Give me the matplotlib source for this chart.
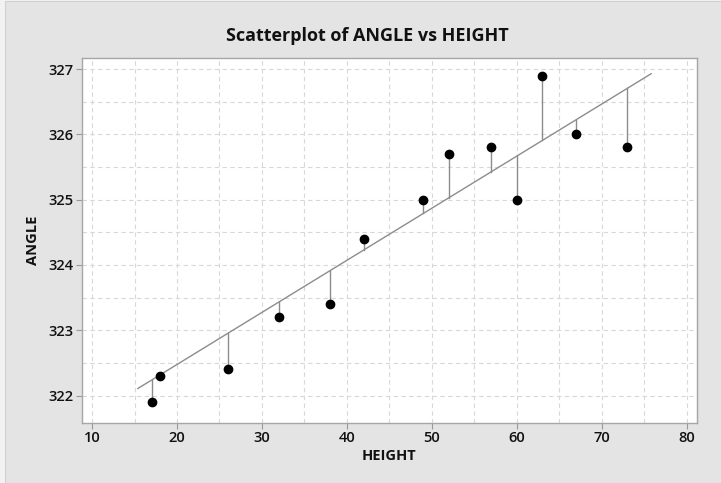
import numpy as np
import matplotlib
matplotlib.use("Agg")
import matplotlib.pyplot as plt
from matplotlib.patches import Rectangle

height = [17, 18, 26, 32, 38, 42, 49, 52, 57, 60, 63, 67, 73]
angle = [321.9, 322.3, 322.4, 323.2, 323.4, 324.4, 325.0, 325.7, 325.8, 325.0, 326.9, 326.0, 325.8]
fit_intercept = 320.88
fit_slope = 0.0798
fit_range = [15.4, 75.8]
x_ticks = [10, 20, 30, 40, 50, 60, 70, 80]
y_ticks = [322, 323, 324, 325, 326, 327]

plt.rcParams['font.family'] = ['Open Sans', 'DejaVu Sans']

W, H = 721, 483
fig = plt.figure(figsize=(W / 100, H / 100), dpi=100)
fig.patch.set_facecolor('#f2f2f2')
fig.patches.append(Rectangle((5 / W, 0), 1, 1 - 1 / H, transform=fig.transFigure,
                             facecolor='#e4e4e4', edgecolor='#d0d0d0', lw=0.8, zorder=-10))

ax = fig.add_axes([82 / W, 1 - 423 / H, (697 - 82) / W, (423 - 58) / H])
ax.set_zorder(1)
ax.set_facecolor('white')

x = np.array(height, dtype=float)
y = np.array(angle, dtype=float)
yhat = fit_intercept + fit_slope * x

# grid
for gx in np.arange(10, 81, 5):
    ax.axvline(gx, color='#d8d8d8', lw=0.8, ls=(0, (4, 3)), zorder=0)
for gy in np.arange(322, 327.01, 0.5):
    ax.axhline(gy, color='#d8d8d8', lw=0.8, ls=(0, (4, 3)), zorder=0)

# fitted line
xf = np.array(fit_range)
ax.plot(xf, fit_intercept + fit_slope * xf, color='#8c8c8c', lw=1.0, zorder=2)
# residuals
for xi, yi, fi in zip(x, y, yhat):
    ax.plot([xi, xi], [yi, fi], color='#8c8c8c', lw=1.0, zorder=2)
ax.plot(x, y, 'o', color='black', ms=6, zorder=3)

ax.set_xlim(8.82, 81.2)
ax.set_ylim(321.58, 327.17)
ax.set_xticks(x_ticks)
ax.set_yticks(y_ticks)
ax.set_xticklabels([str(t) for t in x_ticks], fontsize=10.5, fontweight='semibold')
ax.set_yticklabels([str(t) for t in y_ticks], fontsize=10.5, fontweight='semibold')
ax.tick_params(direction='out', length=4, width=0.8, color='#999999', pad=2, labelcolor='#111111')
for s in ax.spines.values():
    s.set_color('#a6a6a6')
    s.set_linewidth(1.0)

fig.text(389 / W, 1 - 456 / H, 'HEIGHT', ha='center', va='center',
         fontsize=10.5, fontweight='bold', color='#111111')
fig.text(33 / W, 1 - 240 / H, 'ANGLE', ha='center', va='center', rotation=90,
         fontsize=10.5, fontweight='bold', color='#111111')
fig.text(367 / W, 1 - 36 / H, 'Scatterplot of ANGLE vs HEIGHT', ha='center', va='center',
         fontsize=13, fontweight='bold', color='#111111')

fig.savefig('out.png', dpi=100, facecolor=fig.get_facecolor())
